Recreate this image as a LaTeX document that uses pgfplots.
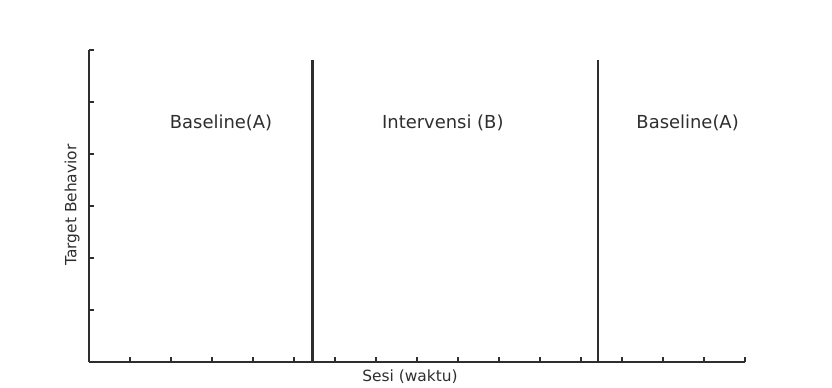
\documentclass[border=0pt]{standalone}
\usepackage{pgfplots}
\pgfplotsset{compat=1.18}
\usepackage{fontspec}
\setmainfont{DejaVu Sans}
\definecolor{ink}{HTML}{2E2E2E}
\begin{document}
\begin{tikzpicture}[x=1bp,y=1bp]
\useasboundingbox (0,0) rectangle (832,387);
\begin{axis}[
  at={(89bp,25bp)}, anchor=south west,
  scale only axis, width=656bp, height=312bp,
  xmin=0, xmax=16, ymin=0, ymax=6,
  axis x line=bottom, axis y line=left,
  axis line style={-, ink, line width=1.6bp},
  xtick={1,...,16}, ytick={1,...,6},
  xticklabels={}, yticklabels={},
  tick align=inside, major tick length=5bp,
  tick style={ink, line width=1.3bp},
  clip=false,
]
\addplot[ink, line width=2.2bp] coordinates {(5.45,0) (5.45,5.8)};
\addplot[ink, line width=2.2bp] coordinates {(12.42,0) (12.42,5.8)};
\node[text=ink, font=\fontsize{18}{20}\selectfont] at (axis cs:3.22,4.6) {Baseline(A)};
\node[text=ink, font=\fontsize{18}{20}\selectfont] at (axis cs:8.63,4.6) {Intervensi (B)};
\node[text=ink, font=\fontsize{18}{20}\selectfont] at (axis cs:14.6,4.6) {Baseline(A)};
\node[text=ink, font=\fontsize{15.5}{18}\selectfont, rotate=90] at (axis cs:-0.41,3.02) {Target Behavior};
\node[text=ink, font=\fontsize{15.5}{18}\selectfont] at (axis cs:7.83,-0.29) {Sesi (waktu)};
\end{axis}
\end{tikzpicture}
\end{document}
